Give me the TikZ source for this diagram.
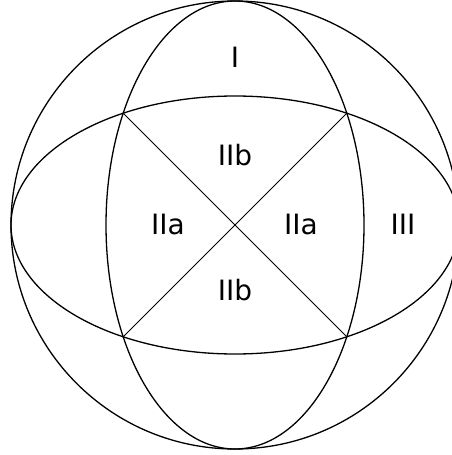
\documentclass[tikz,border=0pt]{standalone}
\usepackage{fontspec}
\setmainfont{DejaVu Sans}
\begin{document}
\begin{tikzpicture}[x=1pt,y=-1pt,
  curve/.style={draw=black,line width=1.3pt},
  lbl/.style={font=\fontsize{28}{30}\selectfont,inner sep=0pt}]
\useasboundingbox (0,0) rectangle (452,455);
\clip (0,0) rectangle (452,455);
\coordinate (c) at (235,225);
\draw[curve] (c) circle[radius=224];
\draw[curve] (c) ellipse[x radius=129,y radius=224];
\draw[curve] (c) ellipse[x radius=224,y radius=129];
\coordinate (tl) at (123,113);
\coordinate (tr) at (347,113);
\coordinate (bl) at (123,337);
\coordinate (br) at (347,337);
\draw[curve,line width=1pt] (tl) -- (br);
\draw[curve,line width=1pt] (tr) -- (bl);
\node[lbl] (n1) at (235,57) {I};
\node[lbl] (n2) at (235,155) {IIb};
\node[lbl] (n3) at (168,224) {IIa};
\node[lbl] (n4) at (301,224) {IIa};
\node[lbl] (n5) at (403,224) {III};
\node[lbl] (n6) at (235,290) {IIb};
\end{tikzpicture}
\end{document}
